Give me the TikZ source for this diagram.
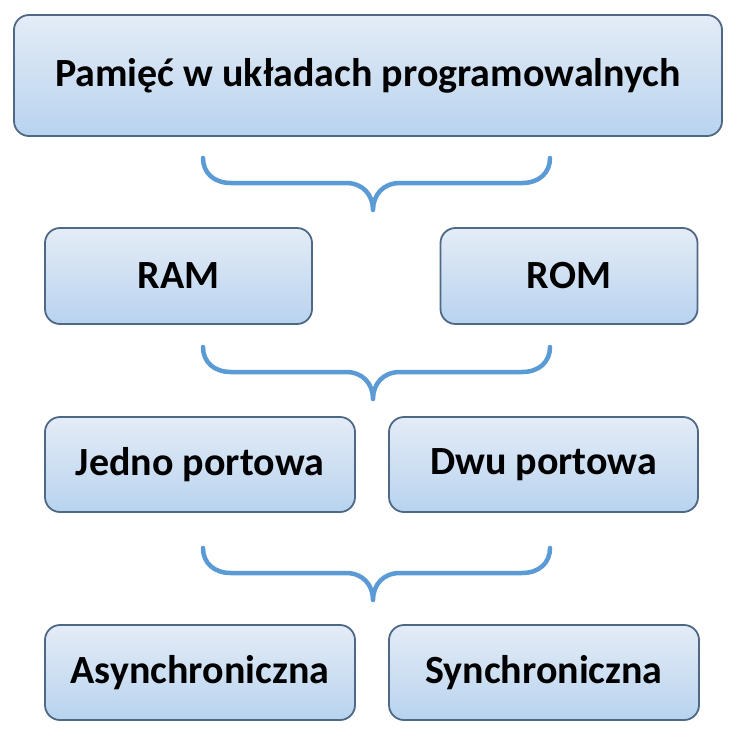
\documentclass[tikz,border=0pt]{standalone}
\usepackage{fontspec}
\setmainfont{Carlito}
\usetikzlibrary{backgrounds}
\definecolor{boxedge}{RGB}{78,104,134}
\definecolor{boxtop}{RGB}{228,236,246}
\definecolor{boxmid}{RGB}{224,236,249}
\definecolor{boxbot}{RGB}{184,211,239}
\definecolor{glowc}{RGB}{165,200,238}
\definecolor{bracec}{RGB}{91,155,213}
\tikzset{
  box/.style={draw=boxedge, line width=1.8pt, rounded corners=15pt,
    top color=boxtop, middle color=boxmid, bottom color=boxbot,
    font=\fontsize{40}{44}\selectfont\bfseries, text=black, inner sep=0pt},
  bracestyle/.style={draw=bracec, line width=4.5pt, line cap=round, line join=round},
}
\newcommand{\myglow}[1]{%
  \foreach \i in {1,...,12} {
    \fill[glowc, opacity=0.09, rounded corners=15pt]
      ([shift={(-\i,\i)}]#1.south west) rectangle ([shift={(\i,-\i)}]#1.north east);
  }%
}
\begin{document}
\begin{tikzpicture}[x=1pt,y=-1pt]
\useasboundingbox[fill=white] (0,0) rectangle (738,737);
\node[box, minimum width=708pt, minimum height=121pt] (top) at (368,75.5) {Pamięć w układach programowalnych};
\node[box, minimum width=267pt, minimum height=96pt] (ram) at (178.5,276) {RAM};
\node[box, minimum width=257pt, minimum height=96pt] (rom) at (569,276) {ROM};
\node[box, minimum width=310pt, minimum height=95pt] (jedno) at (200,464.5) {Jedno portowa};
\node[box, minimum width=309pt, minimum height=95pt] (dwu) at (543.5,464.5) {Dwu portowa};
\node[box, minimum width=310pt, minimum height=95pt] (async) at (200,672.5) {Asynchroniczna};
\node[box, minimum width=310pt, minimum height=95pt] (sync) at (544,672.5) {Synchroniczna};
\begin{scope}[on background layer]
  \myglow{top}\myglow{ram}\myglow{rom}\myglow{jedno}\myglow{dwu}\myglow{async}\myglow{sync}
\end{scope}
% braces
\foreach \y in {158,347,548} {
  \draw[bracestyle] (203,\y) .. controls (203,\y+15) and (214,\y+25) .. (231,\y+25)
    -- (346,\y+25) .. controls (363,\y+25) and (373,\y+37) .. (373,\y+52)
    .. controls (373,\y+37) and (383,\y+25) .. (400,\y+25)
    -- (522,\y+25) .. controls (539,\y+25) and (550,\y+15) .. (550,\y);
}
\end{tikzpicture}
\end{document}
